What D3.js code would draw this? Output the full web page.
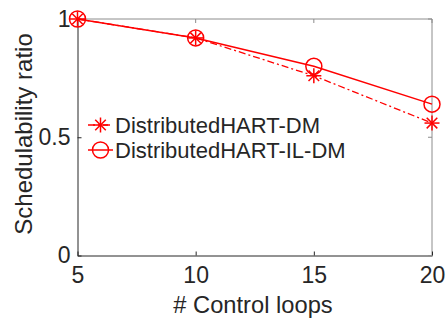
<!DOCTYPE html>
<html><head><meta charset="utf-8">
<script src="https://cdn.jsdelivr.net/npm/d3@7"></script>
<style>body{margin:0;background:#fff}svg{display:block}text{font-family:"Liberation Sans",Arial,sans-serif;fill:#262626}</style>
</head><body><svg id="c" width="447" height="320"></svg>
<script>
const loops = [5, 10, 15, 20];
const dmValues = [1, 0.92, 0.76, 0.56];
const ilDmValues = [1, 0.92, 0.80, 0.64];
const seriesNames = ["DistributedHART-DM", "DistributedHART-IL-DM"];
const xTicks = [5, 10, 15, 20];
const yTicks = [0, 0.5, 1];
const yTickLabels = ["0", "0.5", "1"];

const svg = d3.select("#c");
const L = 77.5, R = 432, T = 19, B = 255.5;
const x = d3.scaleLinear().domain([5, 20]).range([L, R]);
const y = d3.scaleLinear().domain([0, 1]).range([B, T]);
const red = "#ff0000";

// box
svg.append("line").attr("x1", L).attr("x2", R).attr("y1", T).attr("y2", T).attr("stroke", "#8c8c8c");
svg.append("line").attr("x1", R).attr("x2", R).attr("y1", T).attr("y2", B).attr("stroke", "#8c8c8c");

// axes with inward ticks
const xAxis = svg.append("g").attr("transform", `translate(0,${B})`)
  .call(d3.axisBottom(x).tickValues(xTicks).tickSizeInner(-4).tickSizeOuter(0).tickPadding(11).tickFormat(d3.format("d")));
const yAxis = svg.append("g").attr("transform", `translate(${L},0)`)
  .call(d3.axisLeft(y).tickValues(yTicks).tickSizeInner(-4).tickSizeOuter(0).tickPadding(7).tickFormat((d, i) => yTickLabels[i]));
[xAxis, yAxis].forEach(g => {
  g.select(".domain").attr("stroke", "#262626").attr("stroke-width", 1);
  g.selectAll(".tick line").attr("stroke", "#262626");
  g.selectAll(".tick text").attr("font-size", 23).attr("fill", "#262626").style("font-family", "'Liberation Sans',Arial,sans-serif");
});
xAxis.selectAll(".tick text").attr("dy", "0.71em");
// top & right ticks
svg.append("g").selectAll("line").data(xTicks).join("line")
  .attr("x1", d => x(d)).attr("x2", d => x(d)).attr("y1", T).attr("y2", T + 4).attr("stroke", "#8c8c8c");
svg.append("g").selectAll("line").data(yTicks).join("line")
  .attr("x1", R).attr("x2", R - 4).attr("y1", d => y(d)).attr("y2", d => y(d)).attr("stroke", "#8c8c8c");

// axis labels
svg.append("text").attr("x", 253).attr("y", 305).attr("text-anchor", "middle")
  .attr("dominant-baseline", "central").attr("font-size", 23.7).text("# Control loops");
svg.append("text").attr("transform", `translate(23,${134}) rotate(-90)`).attr("text-anchor", "middle")
  .attr("dominant-baseline", "central").attr("font-size", 24).text("Schedulability ratio");

function star(g, cx, cy, r) {
  const angles = [0, 45, 90, 135];
  angles.forEach(a => {
    const rad = a * Math.PI / 180;
    g.append("line").attr("x1", cx - r * Math.cos(rad)).attr("x2", cx + r * Math.cos(rad))
      .attr("y1", cy - r * Math.sin(rad)).attr("y2", cy + r * Math.sin(rad))
      .attr("stroke", red).attr("stroke-width", 1.5);
  });
}
function circ(g, cx, cy, r) {
  g.append("circle").attr("cx", cx).attr("cy", cy).attr("r", r).attr("fill", "none")
    .attr("stroke", red).attr("stroke-width", 1.5);
}

const line = d3.line().x((d, i) => x(loops[i])).y(d => y(d));
const plot = svg.append("g");
plot.append("path").datum(dmValues).attr("d", line).attr("fill", "none").attr("stroke", red)
  .attr("stroke-width", 1.3).attr("stroke-dasharray", "7,3,2,3");
plot.append("path").datum(ilDmValues).attr("d", line).attr("fill", "none").attr("stroke", red)
  .attr("stroke-width", 1.5);
dmValues.forEach((v, i) => star(plot, x(loops[i]), y(v), 7.5));
ilDmValues.forEach((v, i) => circ(plot, x(loops[i]), y(v), 8));

// legend
const leg = svg.append("g");
const rows = [125, 150];
rows.forEach((ry, i) => {
  leg.append("line").attr("x1", 88).attr("x2", 113).attr("y1", ry).attr("y2", ry).attr("stroke", red)
    .attr("stroke-width", 1.5).attr("stroke-dasharray", i === 0 ? "7,3,2,3" : null);
  if (i === 0) star(leg, 100.5, ry, 7.5); else circ(leg, 100.5, ry, 8);
  leg.append("text").attr("x", 115).attr("y", ry).attr("dominant-baseline", "central")
    .attr("font-size", 22).attr("fill", "#000").text(seriesNames[i]);
});
</script></body></html>
